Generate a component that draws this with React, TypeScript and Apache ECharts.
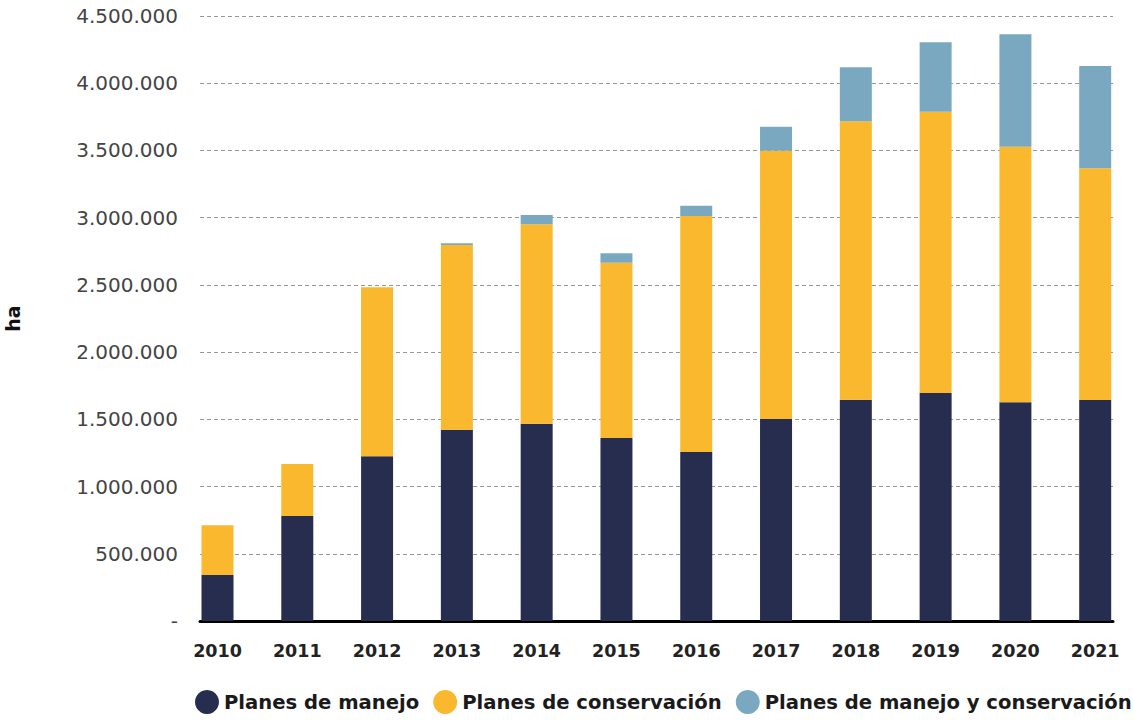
import React, { useEffect, useRef } from "react";
import * as echarts from "echarts";

const years = ["2010", "2011", "2012", "2013", "2014", "2015", "2016", "2017", "2018", "2019", "2020", "2021"];
const planesManejo = [342000, 781000, 1225000, 1423000, 1468000, 1361000, 1257000, 1502000, 1646000, 1696000, 1627000, 1644000];
const planesConservacion = [370000, 387000, 1257000, 1374000, 1483000, 1304000, 1755000, 1996000, 2071000, 2092000, 1901000, 1723000];
const planesManejoConservacion = [0, 0, 0, 12000, 69000, 70000, 77000, 179000, 401000, 516000, 836000, 761000];
const seriesNames = ["Planes de manejo", "Planes de conservación", "Planes de manejo y conservación"];
const colors = ["#262d4f", "#f9b82e", "#7ba8c1"];

const FONT = "DejaVu Sans";

function fmt(v: number): string {
  if (v === 0) return "-";
  return String(v).replace(/\B(?=(\d{3})+(?!\d))/g, ".");
}

export default function App() {
  const ref = useRef<HTMLDivElement>(null);
  useEffect(() => {
    document.body.style.margin = "0";
    const chart = echarts.init(ref.current!, null, { renderer: "svg" });
    const values = [planesManejo, planesConservacion, planesManejoConservacion];
    chart.setOption({
      animation: false,
      color: colors,
      textStyle: { fontFamily: FONT },
      grid: [
        { left: 200, right: 20, top: 16, bottom: 99, outerBoundsMode: "none", containLabel: false },
        { left: 217.5, right: 37.8, top: 16, bottom: 99, outerBoundsMode: "none", containLabel: false },
      ],
      legend: {
        data: seriesNames,
        left: 195,
        top: 690,
        width: 937,
        padding: 0,
        icon: "circle",
        itemWidth: 24,
        itemHeight: 24,
        itemGap: 14,
        textStyle: { fontFamily: FONT, fontSize: 19.6, fontWeight: 600, color: "#1a1a1a" },
      },
      xAxis: [
        {
          type: "category",
          gridIndex: 0,
          data: [""],
          axisLine: { show: true, lineStyle: { color: "#000", width: 3 } },
          axisTick: { show: false },
          axisLabel: { show: false },
        },
        {
          type: "category",
          gridIndex: 1,
          data: years,
          boundaryGap: false,
          axisLine: { show: false },
          axisTick: { show: false },
          axisLabel: {
            margin: 21,
            fontFamily: FONT,
            fontSize: 17.5,
            fontWeight: "bold",
            color: "#222",
          },
        },
      ],
      yAxis: [
        {
          type: "value",
          gridIndex: 0,
          min: 0,
          max: 4500000,
          interval: 500000,
          name: "ha",
          nameLocation: "middle",
          nameRotate: 90,
          nameGap: 178,
          nameTextStyle: { fontFamily: FONT, fontSize: 19, fontWeight: "bold", color: "#111" },
          axisLine: { show: false },
          axisTick: { show: false },
          axisLabel: {
            margin: 22,
            fontFamily: FONT,
            fontSize: 20,
            color: "#444",
            formatter: (v: number) => fmt(v),
          },
          splitLine: { show: true, lineStyle: { color: "#999", width: 1, type: [4, 3] } },
        },
        {
          type: "value",
          gridIndex: 1,
          min: 0,
          max: 4500000,
          interval: 500000,
          show: false,
          splitLine: { show: false },
        },
      ],
      series: seriesNames.map((name, i) => ({
        name,
        type: "bar",
        stack: "total",
        xAxisIndex: 1,
        yAxisIndex: 1,
        barWidth: 32,
        clip: false,
        data: values[i],
        itemStyle: { color: colors[i] },
      })),
    });
    return () => chart.dispose();
  }, []);
  return <div ref={ref} style={{ width: 1133, height: 720 }} />;
}
